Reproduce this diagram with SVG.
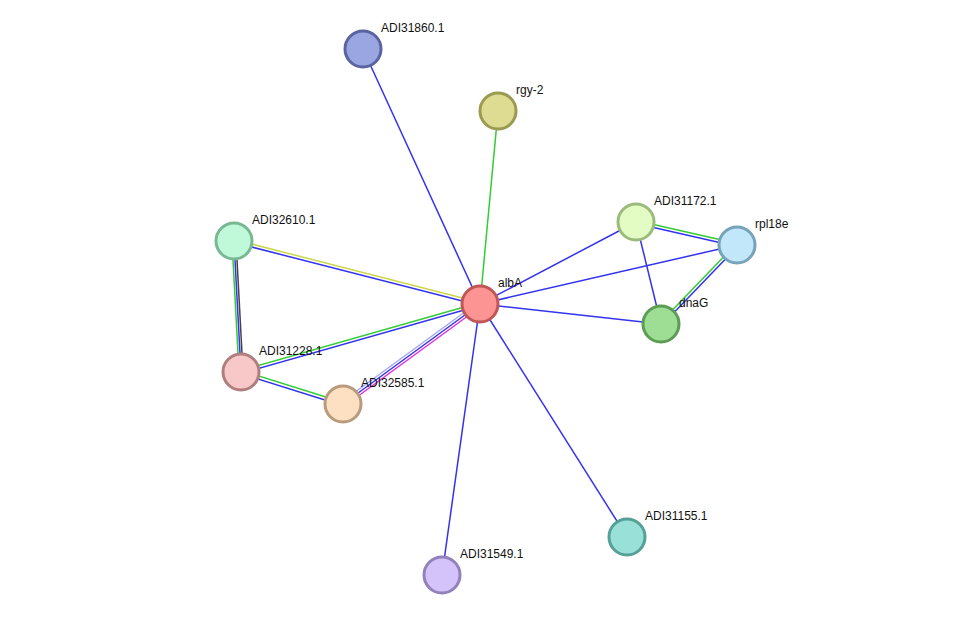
<svg xmlns="http://www.w3.org/2000/svg" width="975" height="621" viewBox="0 0 975 621">
<style>
line{stroke-width:1.5;fill:none}
.b{stroke:#3333ee}.g{stroke:#33cc33}.y{stroke:#c8d84a}.k{stroke:#444}.m{stroke:#dd33dd}.lb{stroke:#a8a8f0}
circle{stroke-width:3}
text{font-family:"Liberation Sans",Arial,sans-serif;font-size:12px;fill:#111}
</style>
<rect width="975" height="621" fill="#fff"/>
<g id="edges">
<line class="b" x1="363" y1="49" x2="480" y2="304"/>
<line class="g" x1="498" y1="111" x2="480" y2="304"/>
<line class="y" x1="234" y1="239.5" x2="480" y2="302.5"/>
<line class="b" x1="234" y1="242.5" x2="480" y2="305.5"/>
<line class="g" x1="232" y1="241" x2="239" y2="372"/>
<line class="b" x1="234" y1="241" x2="241" y2="372"/>
<line class="k" x1="236" y1="241" x2="243" y2="372"/>
<line class="g" x1="241" y1="370.5" x2="480" y2="302.5"/>
<line class="b" x1="241" y1="373.5" x2="480" y2="305.5"/>
<line class="g" x1="241.5" y1="370.5" x2="343.5" y2="402.5"/>
<line class="b" x1="240.5" y1="373.5" x2="342.5" y2="405.5"/>
<line class="lb" x1="341.5" y1="402" x2="478.5" y2="302"/>
<line class="b" x1="343" y1="404" x2="480" y2="304"/>
<line class="m" x1="344.5" y1="406" x2="481.5" y2="306"/>
<line class="b" x1="636" y1="222" x2="480" y2="304"/>
<line class="b" x1="737" y1="245" x2="480" y2="304"/>
<line class="b" x1="661" y1="324" x2="480" y2="304"/>
<line class="b" x1="636" y1="222" x2="661" y2="324"/>
<line class="g" x1="636" y1="220.5" x2="737" y2="243.5"/>
<line class="b" x1="636" y1="223.5" x2="737" y2="246.5"/>
<line class="g" x1="736" y1="244" x2="660" y2="323"/>
<line class="b" x1="738" y1="246" x2="662" y2="325"/>
<line class="b" x1="627" y1="537" x2="480" y2="304"/>
<line class="b" x1="442" y1="575" x2="480" y2="304"/>
</g>
<g id="ADI31860.1"><circle cx="363" cy="49" r="18" fill="#9aa6e2" stroke="#5a64a0"/><text x="381" y="32">ADI31860.1</text></g>
<g id="rgy-2"><circle cx="498" cy="111" r="18" fill="#dedc92" stroke="#9a9a52"/><text x="516" y="94">rgy-2</text></g>
<g id="ADI32610.1"><circle cx="234" cy="241" r="18" fill="#c0f8da" stroke="#7ab894"/><text x="252" y="224">ADI32610.1</text></g>
<g id="ADI31172.1"><circle cx="636" cy="222" r="18" fill="#e2fcc4" stroke="#9cba7c"/><text x="654" y="205">ADI31172.1</text></g>
<g id="rpl18e"><circle cx="737" cy="245" r="18" fill="#c2e6fa" stroke="#76a2ba"/><text x="755" y="228">rpl18e</text></g>
<g id="albA"><circle cx="480" cy="304" r="18" fill="#fc9494" stroke="#c05656"/><text x="498" y="287">albA</text></g>
<g id="dnaG"><circle cx="661" cy="324" r="18" fill="#9ede94" stroke="#5c9c54"/><text x="679" y="307">dnaG</text></g>
<g id="ADI31228.1"><circle cx="241" cy="372" r="18" fill="#f8c8c8" stroke="#b07e7e"/><text x="259" y="355">ADI31228.1</text></g>
<g id="ADI32585.1"><circle cx="343" cy="404" r="18" fill="#fde0c2" stroke="#b89a7c"/><text x="361" y="387">ADI32585.1</text></g>
<g id="ADI31155.1"><circle cx="627" cy="537" r="18" fill="#98e0d8" stroke="#56a098"/><text x="645" y="520">ADI31155.1</text></g>
<g id="ADI31549.1"><circle cx="442" cy="575" r="18" fill="#d4c2fa" stroke="#9282ba"/><text x="460" y="558">ADI31549.1</text></g>
</svg>
